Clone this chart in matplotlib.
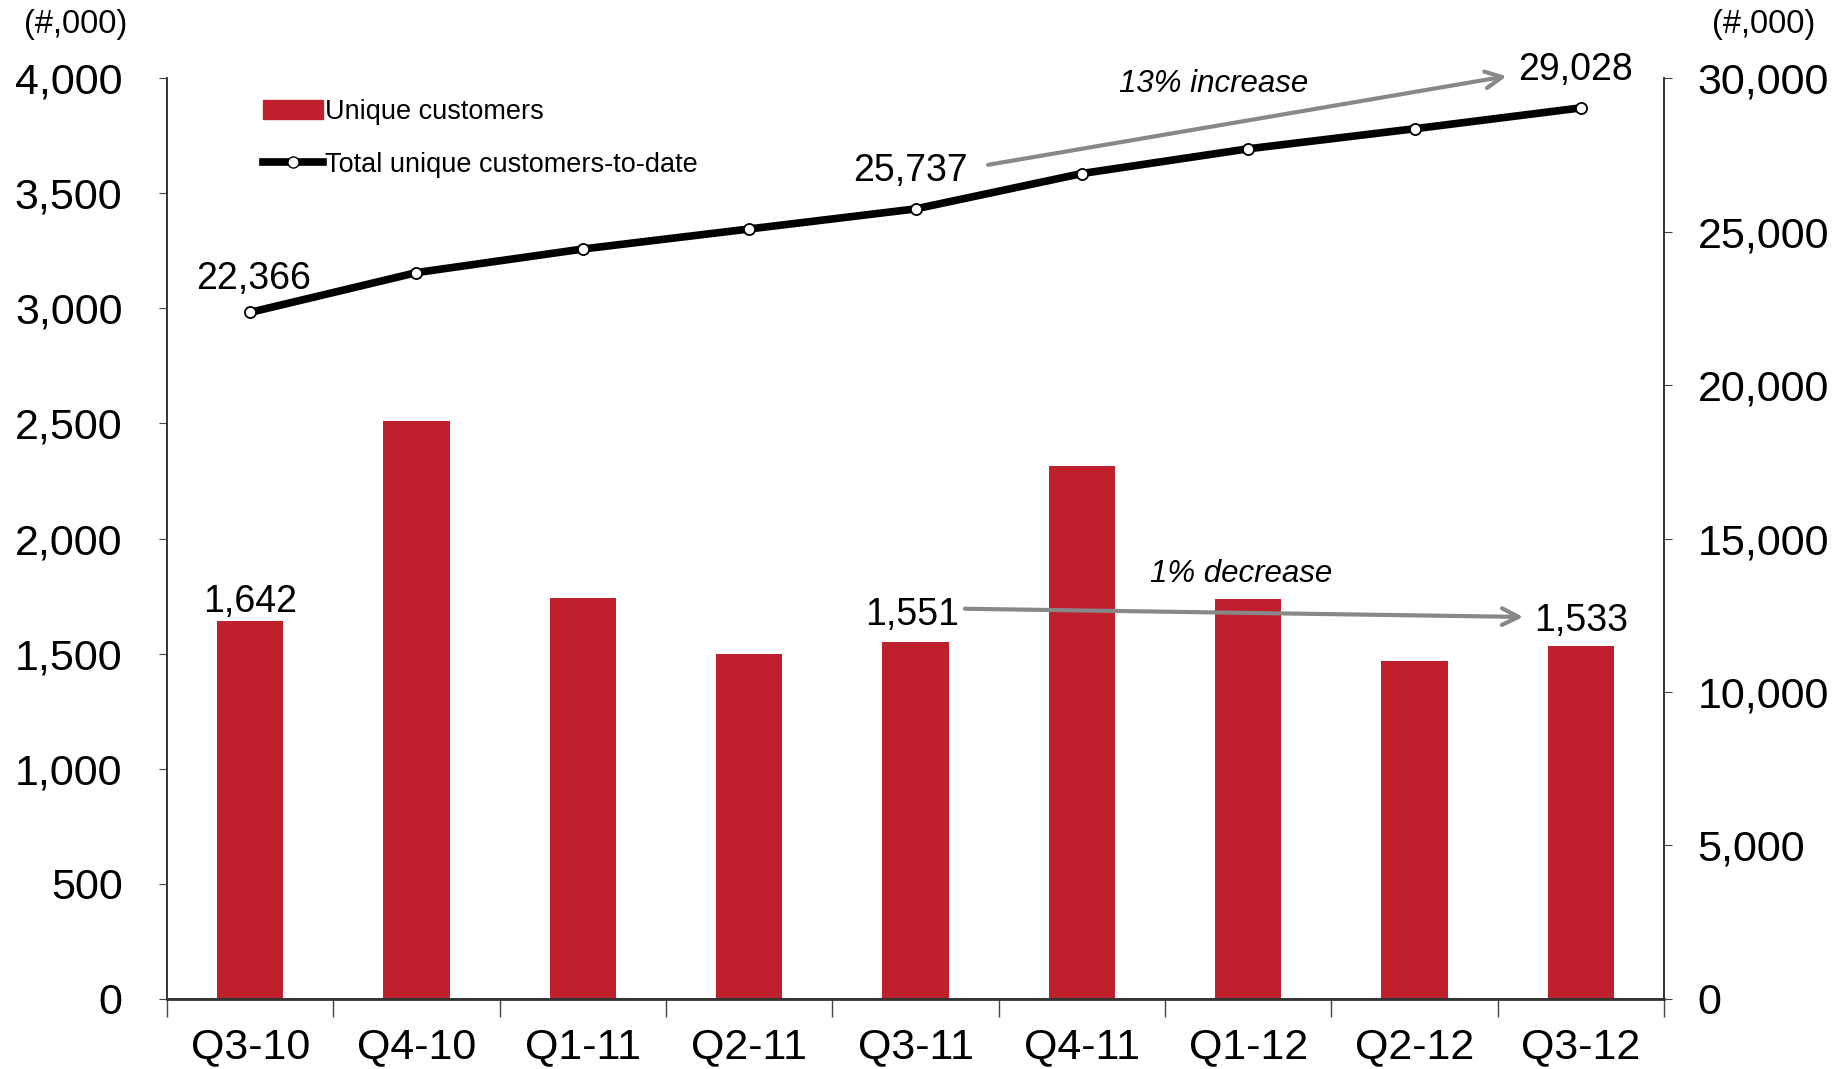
# Unique customers per quarter vs total unique customers-to-date

import numpy as np
import matplotlib.pyplot as plt
from matplotlib.patches import Patch
from matplotlib.lines import Line2D

plt.rcParams['font.family'] = ['Liberation Sans', 'DejaVu Sans']

# Data (thousands)
quarters = ['Q3-10', 'Q4-10', 'Q1-11', 'Q2-11', 'Q3-11', 'Q4-11', 'Q1-12', 'Q2-12', 'Q3-12']
unique = [1642, 2509, 1741, 1500, 1551, 2315, 1736, 1470, 1533]
total = [22366, 23662, 24430, 25083, 25737, 26889, 27695, 28348, 29028]

red = '#C0202E'
x = np.arange(len(quarters))

fig = plt.figure(figsize=(18.49, 10.69), dpi=100)
ax = fig.add_axes([0.0903, 0.0655, 0.8097, 0.8615])
ax2 = ax.twinx()

ax.bar(x, unique, width=0.4, color=red, zorder=2)
ax2.plot(x, total, color='black', lw=5.5, marker='o', markersize=8,
         markerfacecolor='white', markeredgecolor='black', markeredgewidth=1.3,
         zorder=3)

ax.set_xlim(-0.5, len(quarters) - 0.5)
ax.set_ylim(0, 4000)
ax2.set_ylim(0, 30000)
ax.set_yticks(np.arange(0, 4001, 500))
ax2.set_yticks(np.arange(0, 30001, 5000))
ax.set_yticklabels([f'{v:,}' for v in np.arange(0, 4001, 500)])
ax2.set_yticklabels([f'{v:,}' for v in np.arange(0, 30001, 5000)])

# category labels centered, tick marks at boundaries
ax.set_xticks(x)
ax.set_xticklabels(quarters)
ax.set_xticks(np.arange(-0.5, len(quarters)), minor=True)
ax.tick_params(axis='x', which='major', length=0, labelsize=31, pad=20)
ax.tick_params(axis='x', which='minor', length=13, color='#444444', width=1)
ax.tick_params(axis='y', labelsize=31, length=6, color='#444444', pad=26)
ax2.tick_params(axis='y', labelsize=31, length=6, color='#444444', pad=18)

for a in (ax, ax2):
    a.spines['top'].set_visible(False)
    for s in ('left', 'right', 'bottom'):
        a.spines[s].set_color('#333333')
        a.spines[s].set_linewidth(1.2)
ax.spines['bottom'].set_linewidth(2)

fig.text(0.0128, 0.992, '(#,000)', fontsize=23.5, va='top', ha='left')
fig.text(0.982, 0.992, '(#,000)', fontsize=23.5, va='top', ha='right')

# data labels
ax.text(0, unique[0] + 5, f'{unique[0]:,}', fontsize=27, ha='center', va='bottom')
ax.text(3.98, unique[4] + 40, f'{unique[4]:,}', fontsize=27, ha='center', va='bottom')
ax.text(8, unique[8] + 30, f'{unique[8]:,}', fontsize=27, ha='center', va='bottom')
ax2.text(0.02, total[0] + 500, f'{total[0]:,}', fontsize=27, ha='center', va='bottom')
ax2.text(3.97, total[4] + 650, f'{total[4]:,}', fontsize=27, ha='center', va='bottom')
ax2.text(7.97, total[8] + 650, f'{total[8]:,}', fontsize=27, ha='center', va='bottom')

# change arrows
arrow = dict(arrowstyle='->', color='#888888', lw=3, mutation_scale=30)
ax2.annotate('', xy=(7.57, 30075), xytext=(4.42, 27158), arrowprops=arrow,
             annotation_clip=False)
ax2.annotate('', xy=(7.67, 12443), xytext=(4.28, 12713), arrowprops=arrow,
             annotation_clip=False)
ax2.text(5.79, 29820, '13% increase', fontsize=22.5, style='italic', ha='center', va='center')
ax2.text(5.96, 13830, '1% decrease', fontsize=22.5, style='italic', ha='center', va='center')

handles = [Patch(color=red),
           Line2D([0], [0], color='black', lw=5.5, marker='o', markersize=8,
                  markerfacecolor='white', markeredgecolor='black')]
ax2.legend(handles, ['Unique customers', 'Total unique customers-to-date'],
           loc='upper left', bbox_to_anchor=(0.048, 1.004), frameon=False,
           fontsize=19.5, handlelength=2.2, handletextpad=0.1, labelspacing=1.0)

plt.savefig('out.png', dpi=100)
